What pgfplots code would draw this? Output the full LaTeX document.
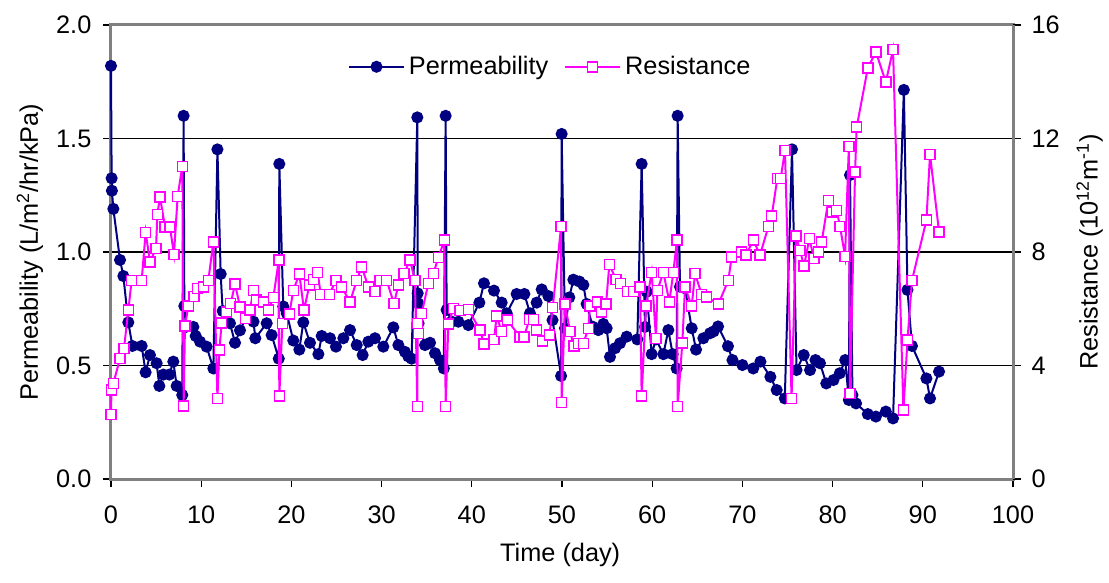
\documentclass[border=0pt]{standalone}
\usepackage{fontspec}
\setmainfont{Liberation Sans}
\usepackage{pgfplots}
\usepackage{pgfplotstable}
\pgfplotsset{compat=1.18}
\definecolor{navyc}{RGB}{0,0,128}
\definecolor{magc}{RGB}{255,0,255}
\definecolor{framec}{RGB}{128,128,128}

\pgfplotstableread{
day perm
0.0 1.82
0.07 1.325
0.1 1.27
0.26 1.19
1.0 0.965
1.37 0.894
1.92 0.69
2.37 0.586
3.4 0.586
3.84 0.47
4.32 0.546
5.06 0.51
5.36 0.41
5.8 0.46
6.47 0.46
6.91 0.517
7.28 0.41
7.9 0.37
8.05 1.60
8.13 0.762
8.31 0.67
9.13 0.67
9.39 0.63
9.87 0.605
10.6 0.583
11.35 0.487
11.8 1.452
12.16 0.903
12.38 0.74
13.19 0.686
13.75 0.60
14.3 0.655
15.04 0.715
15.8 0.693
16.0 0.62
17.26 0.686
17.81 0.634
18.6 0.53
18.66 1.388
19.1 0.76
19.48 0.73
20.21 0.61
20.88 0.57
21.32 0.69
22.06 0.60
22.99 0.55
23.36 0.63
24.28 0.62
24.94 0.583
25.76 0.62
26.5 0.656
27.24 0.59
27.9 0.546
28.53 0.605
29.27 0.62
30.19 0.583
31.3 0.668
31.86 0.59
32.59 0.56
32.96 0.54
33.33 0.53
33.96 1.593
34.0 0.818
34.05 0.774
34.1 0.686
34.81 0.59
35.37 0.60
35.92 0.554
36.47 0.524
36.9 0.487
37.1 1.60
37.21 0.745
37.77 0.693
38.51 0.693
39.62 0.678
40.84 0.777
41.35 0.862
42.46 0.83
43.31 0.777
43.87 0.73
44.97 0.815
45.83 0.815
46.45 0.73
47.19 0.777
47.75 0.835
48.49 0.806
48.95 0.70
49.9 0.454
49.96 1.52
50.33 0.664
50.81 0.80
51.26 0.878
51.92 0.87
52.37 0.855
52.73 0.771
53.4 0.671
54.03 0.656
54.58 0.683
54.95 0.664
55.32 0.538
55.88 0.576
56.43 0.598
57.17 0.627
58.35 0.615
58.83 1.388
59.2 0.67
59.39 0.825
59.94 0.55
60.42 0.615
61.24 0.55
61.79 0.656
62.27 0.55
62.71 0.487
62.82 1.60
63.08 0.847
63.64 0.84
64.38 0.664
64.86 0.57
65.67 0.62
66.41 0.642
66.8 0.65
67.3 0.672
68.4 0.585
68.9 0.524
70.0 0.502
71.2 0.487
72.0 0.517
73.1 0.45
73.8 0.392
74.7 0.355
75.5 1.452
76.0 0.48
76.8 0.546
77.5 0.48
78.1 0.524
78.6 0.51
79.3 0.421
80.1 0.436
80.8 0.466
81.4 0.524
81.8 0.348
81.93 1.339
82.2 0.37
82.6 0.333
83.9 0.286
84.8 0.275
85.9 0.297
86.7 0.267
87.9 1.714
88.3 0.833
88.8 0.586
90.4 0.443
90.8 0.355
91.8 0.473
}\permtable

\pgfplotstableread{
day res
0 2.28
0.05 3.13
0.26 3.37
1.0 4.25
1.44 4.6
1.92 5.95
2.29 7.0
3.4 7.0
3.84 8.69
4.32 7.65
4.99 8.12
5.14 9.33
5.43 9.94
5.99 8.88
6.54 8.88
6.98 7.91
7.39 9.96
7.9 11.02
8.05 2.57
8.2 5.39
8.57 6.09
9.2 6.44
9.57 6.71
10.24 6.77
10.79 7.0
11.35 8.36
11.8 2.84
12.01 4.54
12.27 5.5
12.82 5.89
13.27 6.18
13.75 6.87
14.3 6.07
14.93 5.66
15.41 5.95
15.78 6.65
16.15 6.3
16.89 6.24
17.44 5.95
18.0 6.4
18.6 7.71
18.66 2.92
19.0 5.48
19.77 5.81
20.21 6.65
20.88 7.22
21.4 5.95
21.99 6.83
22.43 7.03
22.91 7.28
23.25 6.51
24.2 6.51
24.94 7.0
25.57 6.77
26.5 6.24
27.24 7.0
27.79 7.48
28.53 6.77
29.27 6.6
29.82 7.0
30.56 7.0
31.37 6.18
31.86 6.83
32.48 7.24
33.15 7.71
33.7 7.0
33.96 2.55
34.0 5.48
34.07 5.13
34.44 5.83
35.18 6.89
35.74 7.24
36.29 7.8
36.96 8.42
37.1 2.55
37.4 5.46
37.95 6.0
38.69 5.93
39.62 5.97
40.91 5.25
41.35 4.75
42.46 4.92
42.76 5.74
43.31 5.19
43.94 5.6
45.34 5.01
45.79 5.01
46.38 5.62
46.83 5.62
47.19 5.25
47.86 4.87
48.6 5.07
48.97 6.04
49.9 8.9
49.96 2.69
50.33 6.16
50.89 5.19
51.33 4.68
51.81 4.78
52.37 4.78
52.92 5.31
53.1 6.09
53.95 6.24
54.4 5.89
54.88 6.16
55.25 7.56
55.99 7.03
56.5 6.89
57.24 6.6
57.91 6.6
58.65 6.77
58.83 2.92
59.31 6.09
59.94 7.28
60.42 4.95
60.57 6.65
61.24 7.28
61.9 6.24
62.34 7.28
62.75 8.42
62.82 2.55
63.34 4.8
63.64 6.77
64.38 6.09
64.75 7.24
65.48 6.51
66.04 6.42
67.33 6.16
68.44 7.0
68.81 7.83
69.92 8.0
70.4 7.89
71.21 8.42
71.95 7.89
72.88 8.9
73.24 9.26
73.87 10.59
74.24 10.59
74.72 11.58
75.45 2.84
75.94 8.56
76.39 8.06
76.83 7.5
77.42 8.47
77.94 7.77
78.42 8.0
78.79 8.36
79.53 9.82
80.01 9.41
80.45 9.47
80.82 8.9
81.38 7.85
81.8 11.72
81.93 3.02
82.49 10.82
82.67 12.4
83.9 14.48
84.8 15.05
85.9 13.99
86.7 15.13
87.85 2.43
88.3 4.89
88.8 7.0
90.4 9.12
90.8 11.44
91.8 8.71
}\restable

\begin{document}
\begin{tikzpicture}
\path[use as bounding box] (-55.5bp,-52bp) rectangle (499bp,239.5bp);
\pgfplotsset{
  every axis/.append style={
    scale only axis, width=451bp, height=227bp,
    xmin=0, xmax=100, clip=false,
    font=\fontsize{12.7}{15}\selectfont,
    /pgf/number format/assume math mode=true,
    axis line style={framec, line width=1.5bp},
    tick style={black, line width=0.6bp},
    tick align=outside, major tick length=4bp,
  },
  legend image code/.code={\draw[mark repeat=2,mark phase=2] plot coordinates {(0bp,0bp) (13.75bp,0bp) (27.5bp,0bp)};},
}
\begin{axis}[
  ymin=0, ymax=2, ytick={0,0.5,1,1.5,2},
  yticklabel style={xshift=-2.3bp, /pgf/number format/.cd, fixed, fixed zerofill, precision=1},
  xticklabel style={yshift=-6bp},
  xtick={0,10,...,100},
  xtick pos=lower, ytick pos=left,
  ymajorgrids, grid style={black, line width=0.6bp},
  xlabel={Time (day)},
  ylabel={Permeability (L/m\textsuperscript{2}/hr/kPa)},
  every axis x label/.style={at={(axis description cs:0.498,-0.167)}, anchor=center},
  every axis y label/.style={at={(axis description cs:-0.0898,0.5)}, rotate=90, anchor=center},
]
\addplot[navyc, line width=1bp, mark=*, mark size=2.5bp, mark options={fill=navyc, solid}] table[x=day, y=perm]{\permtable};
\end{axis}
\begin{axis}[
  axis x line=none, axis y line*=right,
  ymin=0, ymax=16, ytick={0,4,8,12,16},
  yticklabel style={xshift=1.8bp},
  ylabel={Resistance (10\textsuperscript{12}m\textsuperscript{-1})},
  every axis y label/.style={at={(axis description cs:1.085,0.5)}, rotate=90, anchor=center},
  legend style={at={(axis description cs:0.488,0.908)}, anchor=center, draw=none, fill=none,
    legend columns=2, font=\fontsize{12.7}{15}\selectfont,
    /tikz/every even column/.append style={column sep=6bp}},
  legend cell align=left,
]
\addlegendimage{navyc, line width=1bp, mark=*, mark size=2.5bp, mark options={fill=navyc, solid}}
\addlegendentry{Permeability}
\addplot[magc, line width=1bp, mark=square*, mark size=2.5bp, mark options={fill=white, draw=magc, line width=0.75bp, solid}] table[x=day, y=res]{\restable};
\addlegendentry{Resistance}
\end{axis}
\end{tikzpicture}
\end{document}
